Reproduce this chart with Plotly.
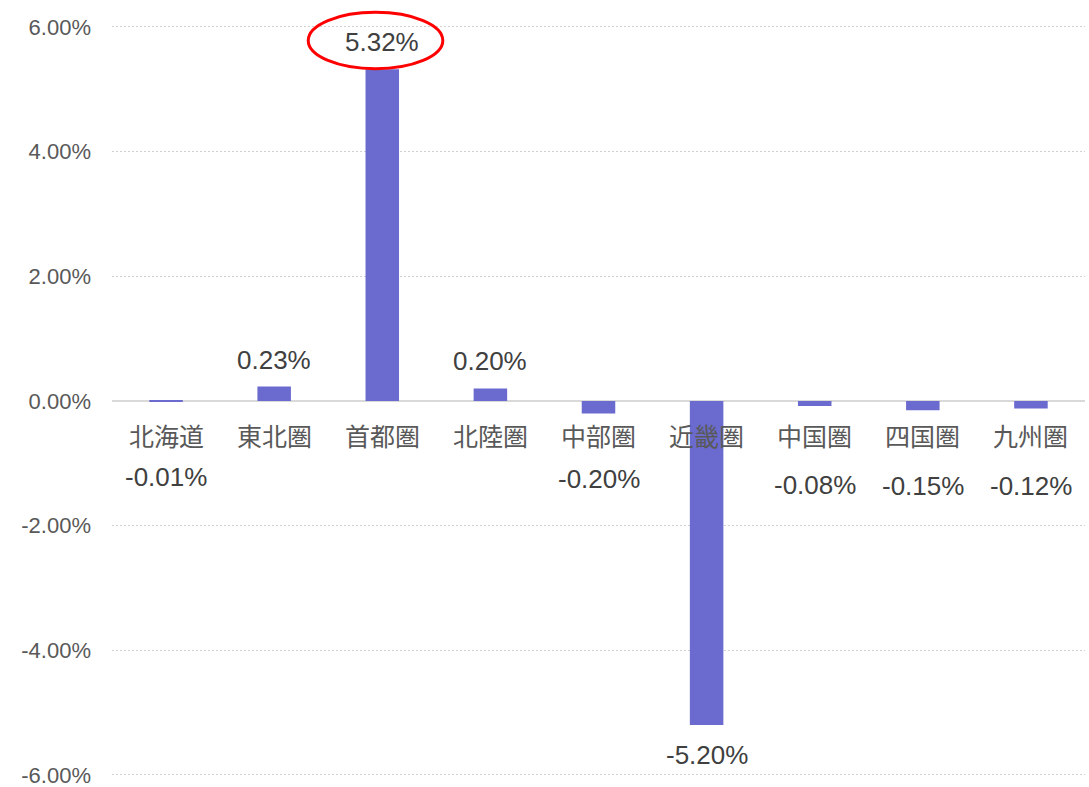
import plotly.graph_objects as go

categories = ["北海道", "東北圏", "首都圏", "北陸圏", "中部圏", "近畿圏", "中国圏", "四国圏", "九州圏"]
values = [-0.01, 0.23, 5.32, 0.20, -0.20, -5.20, -0.08, -0.15, -0.12]
y_ticks = [-6, -4, -2, 0, 2, 4, 6]

# label offsets (pixels) for data labels
label_shift = [-75, 27, 27, 27, -66, -30, -79, -76, -78]

FONT = "Liberation Sans, Arial, Noto Sans CJK JP, sans-serif"
CJK = "Noto Sans CJK JP, sans-serif"

fig = go.Figure()
fig.add_trace(go.Bar(
    x=list(range(len(categories))), y=values,
    marker=dict(color="#6B6BCF", line=dict(width=0)),
    width=0.31, hoverinfo="skip",
))

annotations = []
for i, (c, v) in enumerate(zip(categories, values)):
    annotations.append(dict(
        x=i, y=0, xref="x", yref="y", text=c, showarrow=False,
        yanchor="middle", yshift=-34,
        font=dict(family=CJK, size=25, color="#595959"),
    ))
    annotations.append(dict(
        x=i, y=v, xref="x", yref="y", text=f"{v:.2f}%", showarrow=False,
        yanchor="middle", yshift=label_shift[i],
        font=dict(family=FONT, size=26, color="#404040"),
    ))

hi = values.index(max(values))
fig.add_shape(
    type="circle", xref="x", yref="y",
    x0=hi - 0.685, x1=hi + 0.56, y0=5.33, y1=6.235,
    line=dict(color="#FF0000", width=3),
)

fig.update_layout(
    width=1089, height=787,
    margin=dict(l=112, r=4, t=0, b=9),
    plot_bgcolor="white", paper_bgcolor="white",
    showlegend=False,
    annotations=annotations,
    xaxis=dict(
        range=[-0.5, len(categories) - 0.5], automargin=False,
        showticklabels=False, showgrid=False, zeroline=False, showline=False,
    ),
    yaxis=dict(
        range=[-6.05, 6.433], automargin=False,
        tickvals=y_ticks,
        ticktext=[f"{t:.2f}%" for t in y_ticks],
        showgrid=True, gridcolor="#d0d0d0", griddash="2px,2px", gridwidth=1.3,
        zeroline=True, zerolinecolor="#d9d9d9", zerolinewidth=2,
        showline=False, ticks="", ticklabelstandoff=20,
        ticklabeloverflow="allow",
        tickfont=dict(family=FONT, size=22, color="#595959"),
    ),
)

fig.write_html(
    "out.html",
    config={"displayModeBar": False},
    post_script="document.body.style.margin='0';document.body.style.overflow='hidden';",
)
